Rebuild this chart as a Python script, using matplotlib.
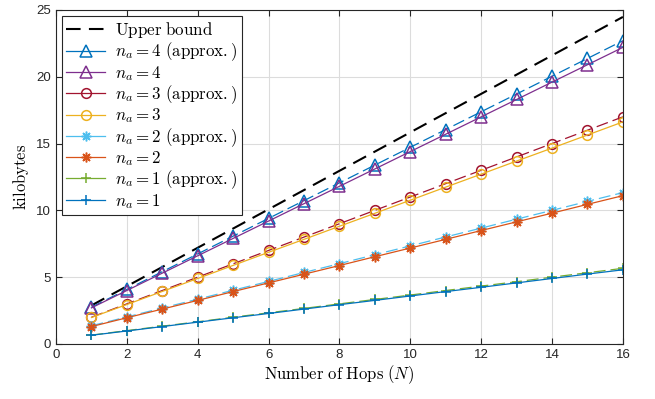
import numpy as np
import matplotlib
matplotlib.use("Agg")
import matplotlib.pyplot as plt

plt.rcParams['mathtext.fontset'] = 'cm'
plt.rcParams['font.family'] = ['Liberation Sans', 'DejaVu Sans']

hops = list(range(1, 17))

upper_bound = [2.88, 4.32, 5.76, 7.20, 8.64, 10.08, 11.52, 12.96,
               14.40, 15.84, 17.28, 18.72, 20.16, 21.60, 23.04, 24.48]
na4_approx = [2.75, 4.08, 5.41, 6.74, 8.07, 9.40, 10.73, 12.06,
              13.39, 14.72, 16.05, 17.38, 18.71, 20.04, 21.37, 22.70]
na4 = [2.7, 4.0, 5.3, 6.6, 7.9, 9.2, 10.5, 11.8,
       13.1, 14.4, 15.7, 17.0, 18.3, 19.6, 20.9, 22.2]
na3_approx = [2.0, 3.0, 4.0, 5.0, 6.0, 7.0, 8.0, 9.0,
              10.0, 11.0, 12.0, 13.0, 14.0, 15.0, 16.0, 17.0]
na3 = [1.98, 2.95, 3.93, 4.90, 5.88, 6.86, 7.83, 8.81,
       9.78, 10.76, 11.74, 12.71, 13.69, 14.66, 15.64, 16.62]
na2_approx = [1.36, 2.02, 2.69, 3.35, 4.02, 4.68, 5.35, 6.01,
              6.68, 7.34, 8.01, 8.67, 9.34, 10.00, 10.67, 11.33]
na2 = [1.30, 1.96, 2.61, 3.26, 3.92, 4.57, 5.22, 5.87,
       6.53, 7.18, 7.83, 8.49, 9.14, 9.79, 10.45, 11.10]
na1_approx = [0.66, 1.00, 1.33, 1.66, 2.00, 2.33, 2.66, 3.00,
              3.33, 3.66, 4.00, 4.33, 4.66, 5.00, 5.33, 5.66]
na1 = [0.65, 0.97, 1.30, 1.63, 1.96, 2.28, 2.61, 2.94,
       3.26, 3.59, 3.92, 4.24, 4.57, 4.90, 5.23, 5.55]

fig = plt.figure(figsize=(6.55, 3.99), dpi=100)
ax = fig.add_axes([0.0855, 0.138, 0.8655, 0.837])

dash = (0, (9.5, 4))
ast = (8, 2, 0)
ax.plot(hops, upper_bound, color='black', lw=1.5, linestyle=(0, (7, 4)),
        label=r'$\mathrm{Upper\ bound}$')
ax.plot(hops, na4_approx, color='#0072BD', lw=0.9, linestyle=dash, marker='^', ms=8,
        mfc='none', mew=1.1, label=r'$n_a = 4\ \mathrm{(approx.)}$')
ax.plot(hops, na4, color='#7E2F8E', lw=0.9, marker='^', ms=8,
        mfc='none', mew=1.1, label=r'$n_a = 4$')
ax.plot(hops, na3_approx, color='#A2142F', lw=0.9, linestyle=dash, marker='o', ms=7,
        mfc='none', mew=1.1, label=r'$n_a = 3\ \mathrm{(approx.)}$')
ax.plot(hops, na3, color='#EDB120', lw=0.9, marker='o', ms=7,
        mfc='none', mew=1.1, label=r'$n_a = 3$')
ax.plot(hops, na2_approx, color='#4DBEEE', lw=0.9, linestyle=dash, marker=ast, ms=7,
        mew=1.1, label=r'$n_a = 2\ \mathrm{(approx.)}$')
ax.plot(hops, na2, color='#D95319', lw=0.9, marker=ast, ms=7,
        mew=1.1, label=r'$n_a = 2$')
ax.plot(hops, na1_approx, color='#77AC30', lw=0.9, linestyle=dash, marker='+', ms=7,
        mew=1.1, label=r'$n_a = 1\ \mathrm{(approx.)}$')
ax.plot(hops, na1, color='#0072BD', lw=0.9, marker='+', ms=7,
        mew=1.1, label=r'$n_a = 1$')

ax.set_xlim(0, 16)
ax.set_ylim(0, 25)
ax.set_xticks(range(0, 17, 2))
ax.set_yticks(range(0, 26, 5))
ax.grid(True, color='#dcdcdc', lw=0.8)
ax.set_axisbelow(True)
ax.tick_params(direction='in', top=True, right=True, labelsize=9.5, length=4,
               colors='#262626')
for s in ax.spines.values():
    s.set_color('#262626')
    s.set_linewidth(0.8)

ax.set_xlabel(r'$\mathrm{Number\ of\ Hops}\ (N)$', fontsize=12, labelpad=2)
ax.set_ylabel(r'$\mathrm{kilobytes}$', fontsize=12, labelpad=4)

leg = ax.legend(loc='upper left', fontsize=12.2, fancybox=False, framealpha=1,
                edgecolor='#262626', handlelength=2.3, borderpad=0.25,
                labelspacing=0.03, handletextpad=0.6, borderaxespad=0.35)
leg.get_frame().set_linewidth(0.8)
# approximation handles are drawn solid inside the legend box
for h in leg.get_lines()[1:]:
    h.set_linestyle('-')

fig.savefig('out.png', dpi=100)
